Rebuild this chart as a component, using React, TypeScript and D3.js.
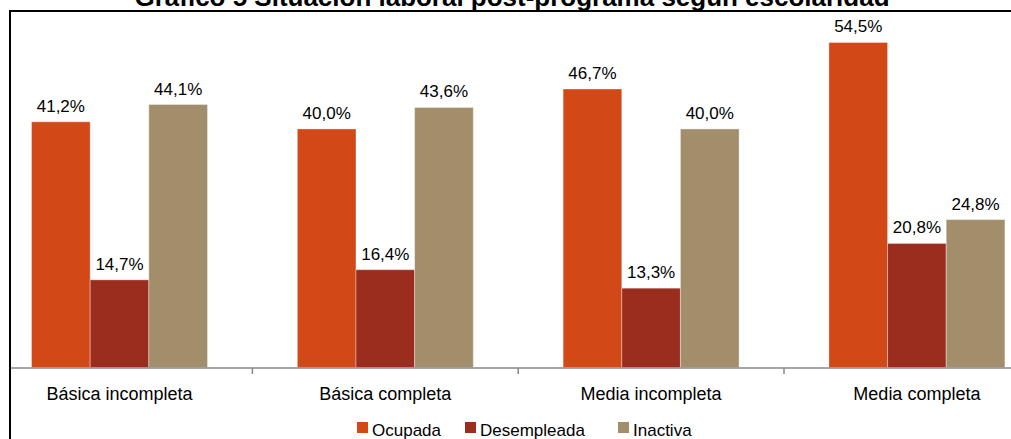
import React from "react";
import * as d3 from "d3";

const categories = ["Básica incompleta", "Básica completa", "Media incompleta", "Media completa"];
const seriesNames = ["Ocupada", "Desempleada", "Inactiva"];
const ocupada = [41.2, 40.0, 46.7, 54.5];
const desempleada = [14.7, 16.4, 13.3, 20.8];
const inactiva = [44.1, 43.6, 40.0, 24.8];
const colors = ["#D34817", "#9B2D1F", "#A28E6A"];
const title = "Gráfico 5 Situación laboral post-programa según escolaridad";

const W = 1011;
const H = 439;
const FONT = "'Liberation Sans', Arial, sans-serif";

const fmt = (v: number) => v.toFixed(1).replace(".", ",") + "%";

export default function App() {
  const series = [ocupada, desempleada, inactiva];
  const x0 = d3.scaleBand<string>().domain(categories).range([-13.4, 1049.8]).paddingInner(0.338).paddingOuter(0.169);
  const x1 = d3.scaleBand<string>().domain(seriesNames).range([0, x0.bandwidth()]).padding(0);
  const y = d3.scaleLinear().domain([0, 60]).range([367.5, 9.7]);
  const step = x0.step();
  const tickXs = categories.slice(1).map((c) => (x0(c) as number) - (step * 0.338) / 2);

  const legendX = [357, 465, 618];

  return (
    <svg width={W} height={H} style={{ position: "absolute", left: 0, top: 0, background: "#fff" }} fontFamily={FONT}>
      <rect x={0} y={0} width={W} height={H} fill="#fff" />
      <text x={512} y={6} textAnchor="middle" fontWeight="bold" fontSize={25} fill="#000" textLength={755} lengthAdjust="spacingAndGlyphs">{title}</text>
      {/* frame */}
      <line x1={9} x2={W} y1={11} y2={11} stroke="#000" strokeWidth={2} />
      <line x1={10} x2={10} y1={10} y2={H} stroke="#000" strokeWidth={2} />
      {/* bars */}
      {categories.map((c, ci) => (
        <g key={c} transform={`translate(${x0(c)},0)`}>
          {seriesNames.map((s, si) => {
            const v = series[si][ci];
            const bx = x1(s) as number;
            return (
              <g key={s}>
                <rect x={bx} y={y(v)} width={x1.bandwidth()} height={y(0) - y(v)} fill={colors[si]} stroke="rgba(255,255,255,0.35)" strokeWidth={1} />
                <text x={bx + x1.bandwidth() / 2} y={y(v) - 10} textAnchor="middle" fontSize={17} fill="#000">{fmt(v)}</text>
              </g>
            );
          })}
        </g>
      ))}
      {/* axis */}
      <line x1={11} x2={W} y1={368} y2={368} stroke="#888" strokeWidth={1.5} />
      {tickXs.map((tx, i) => (
        <line key={i} x1={tx} x2={tx} y1={368} y2={374} stroke="#888" strokeWidth={1.5} />
      ))}
      {categories.map((c) => (
        <text key={c} x={(x0(c) as number) + x0.bandwidth() / 2} y={400} textAnchor="middle" fontSize={18} fill="#000">{c}</text>
      ))}
      {/* legend */}
      {seriesNames.map((s, i) => (
        <g key={s} transform={`translate(${legendX[i]},0)`}>
          <rect x={0} y={422} width={11} height={11} fill={colors[i]} />
          <text x={15} y={436} fontSize={17} fill="#000">{s}</text>
        </g>
      ))}
    </svg>
  );
}
